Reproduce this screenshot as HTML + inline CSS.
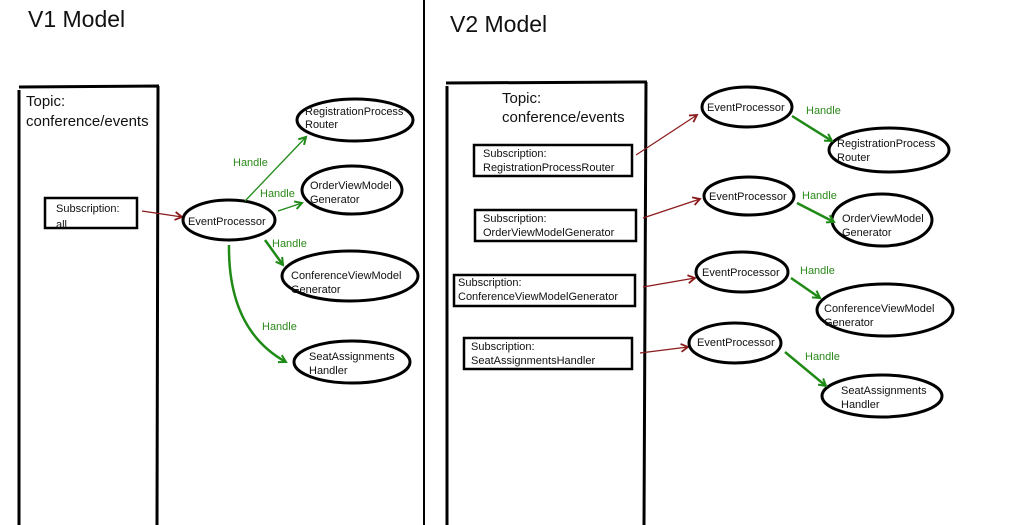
<!DOCTYPE html>
<html><head><meta charset="utf-8"><style>
html,body{margin:0;padding:0;background:#fff;}
svg{display:block;font-family:"Liberation Sans",sans-serif;}
.n{font-size:11px;fill:#111;}
.h{font-size:11px;fill:#2a8a1a;}
.t{font-size:15px;fill:#111;}
.e{fill:#fff;stroke:#000;stroke-width:3;}
.b{fill:#fff;stroke:#000;stroke-width:2.5;}
.r{stroke:#8b1a1a;stroke-width:1.2;fill:none;}
.g{stroke:#1f8a16;fill:none;}
</style></head><body>
<svg width="1024" height="525" viewBox="0 0 1024 525">
<defs>
<marker id="ar" markerWidth="10" markerHeight="10" refX="8" refY="5" orient="auto" markerUnits="userSpaceOnUse"><path d="M1,1 L8,5 L1,9" fill="none" stroke="#8b1a1a" stroke-width="1.8"/></marker>
<marker id="ag" markerWidth="10" markerHeight="10" refX="8" refY="5" orient="auto" markerUnits="userSpaceOnUse"><path d="M1,1 L8,5 L1,9" fill="none" stroke="#1f8a16" stroke-width="2"/></marker>
</defs>
<text x="28" y="27" font-size="23" fill="#111">V1 Model</text>
<text x="450" y="32" font-size="23" fill="#111">V2 Model</text>
<line x1="424" y1="0" x2="424" y2="525" stroke="#000" stroke-width="2"/>

<!-- V1 -->
<path d="M19,90 L19,525 M19,87 L159,86 M158,86 L157,525" stroke="#000" stroke-width="3" fill="none"/>
<text class="t" x="26" y="106">Topic:</text>
<text class="t" x="26" y="126">conference/events</text>
<rect class="b" x="45" y="198" width="92" height="30"/>
<text class="n" x="56" y="212">Subscription:</text>
<text class="n" x="56" y="228">all</text>
<line class="r" x1="142" y1="211" x2="182" y2="217" marker-end="url(#ar)" stroke-width="2"/>
<ellipse class="e" cx="229" cy="220" rx="46" ry="20"/>
<text class="n" x="188" y="225">EventProcessor</text>
<ellipse class="e" cx="355" cy="120" rx="58" ry="21"/>
<text class="n" x="305" y="115">RegistrationProcess</text><text class="n" x="305" y="128">Router</text>
<ellipse class="e" cx="352" cy="190" rx="50" ry="24"/>
<text class="n" x="310" y="189">OrderViewModel</text><text class="n" x="310" y="203">Generator</text>
<ellipse class="e" cx="350" cy="276" rx="68" ry="25"/>
<text class="n" x="291" y="279">ConferenceViewModel</text><text class="n" x="291" y="293">Generator</text>
<ellipse class="e" cx="352" cy="362" rx="58" ry="21"/>
<text class="n" x="309" y="360">SeatAssignments</text><text class="n" x="309" y="374">Handler</text>
<line class="g" x1="245" y1="201" x2="306" y2="137" marker-end="url(#ag)" stroke-width="1.3"/>
<text class="h" x="233" y="166">Handle</text>
<line class="g" x1="278" y1="211" x2="302" y2="203" marker-end="url(#ag)" stroke-width="1.3"/>
<text class="h" x="260" y="197">Handle</text>
<line class="g" x1="265" y1="240" x2="283" y2="265" marker-end="url(#ag)" stroke-width="2.5"/>
<text class="h" x="272" y="247">Handle</text>
<path class="g" d="M229,245 Q228,330 286,362" marker-end="url(#ag)" stroke-width="2.5"/>
<text class="h" x="262" y="330">Handle</text>

<!-- V2 -->
<path d="M447,86 L447,525 M446,83 L647,82 M646,82 L644,525" stroke="#000" stroke-width="3" fill="none"/>
<text class="t" x="502" y="103">Topic:</text>
<text class="t" x="502" y="122">conference/events</text>
<rect class="b" x="474" y="145" width="158" height="31"/>
<text class="n" x="483" y="157">Subscription:</text><text class="n" x="483" y="171">RegistrationProcessRouter</text>
<rect class="b" x="475" y="210" width="161" height="31"/>
<text class="n" x="483" y="222">Subscription:</text><text class="n" x="483" y="236">OrderViewModelGenerator</text>
<rect class="b" x="454" y="275" width="181" height="31"/>
<text class="n" x="458" y="286">Subscription:</text><text class="n" x="458" y="300">ConferenceViewModelGenerator</text>
<rect class="b" x="464" y="338" width="168" height="31"/>
<text class="n" x="471" y="350">Subscription:</text><text class="n" x="471" y="364">SeatAssignmentsHandler</text>

<line class="r" x1="636" y1="155" x2="697" y2="115" marker-end="url(#ar)"/>
<line class="r" x1="643" y1="218" x2="700" y2="199" marker-end="url(#ar)"/>
<line class="r" x1="643" y1="287" x2="695" y2="278" marker-end="url(#ar)" stroke-width="2"/>
<line class="r" x1="640" y1="353" x2="688" y2="347" marker-end="url(#ar)" stroke-width="2"/>

<ellipse class="e" cx="747" cy="107" rx="45" ry="20"/><text class="n" x="707" y="111">EventProcessor</text>
<ellipse class="e" cx="749" cy="196" rx="45" ry="19"/><text class="n" x="709" y="200">EventProcessor</text>
<ellipse class="e" cx="742" cy="272" rx="46" ry="20"/><text class="n" x="702" y="276">EventProcessor</text>
<ellipse class="e" cx="735" cy="343" rx="46" ry="20"/><text class="n" x="697" y="346">EventProcessor</text>

<ellipse class="e" cx="889" cy="150" rx="60" ry="22"/>
<text class="n" x="837" y="147">RegistrationProcess</text><text class="n" x="837" y="161">Router</text>
<ellipse class="e" cx="882" cy="220" rx="50" ry="26"/>
<text class="n" x="842" y="222">OrderViewModel</text><text class="n" x="842" y="236">Generator</text>
<ellipse class="e" cx="885" cy="310" rx="68" ry="26"/>
<text class="n" x="824" y="312">ConferenceViewModel</text><text class="n" x="824" y="326">Generator</text>
<ellipse class="e" cx="882" cy="396" rx="60" ry="21"/>
<text class="n" x="841" y="394">SeatAssignments</text><text class="n" x="841" y="408">Handler</text>

<line class="g" x1="792" y1="116" x2="832" y2="141" marker-end="url(#ag)" stroke-width="2.5"/>
<text class="h" x="806" y="114">Handle</text>
<line class="g" x1="797" y1="203" x2="834" y2="222" marker-end="url(#ag)" stroke-width="2.5"/>
<text class="h" x="802" y="199">Handle</text>
<line class="g" x1="791" y1="278" x2="820" y2="298" marker-end="url(#ag)" stroke-width="2.5"/>
<text class="h" x="800" y="274">Handle</text>
<line class="g" x1="785" y1="352" x2="826" y2="386" marker-end="url(#ag)" stroke-width="2.5"/>
<text class="h" x="805" y="360">Handle</text>
</svg>
</body></html>
